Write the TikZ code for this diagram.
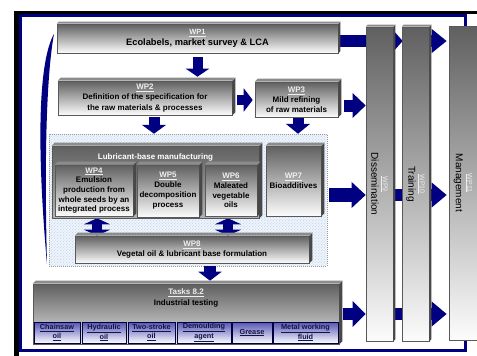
\documentclass[tikz,border=0pt]{standalone}
\usepackage{fontspec}
\setmainfont{Liberation Sans}
\usetikzlibrary{arrows.meta,patterns}
\definecolor{navy}{RGB}{0,0,128}
\definecolor{gtop}{RGB}{96,96,96}
\definecolor{gbot}{RGB}{252,252,252}
\definecolor{sidec}{RGB}{72,72,72}
\definecolor{topc}{RGB}{140,140,140}
\definecolor{hatchbg}{RGB}{240,245,252}
\definecolor{hatchln}{RGB}{188,208,234}
\definecolor{subtop}{RGB}{85,85,180}
\definecolor{subbot}{RGB}{250,250,255}
\definecolor{wplab}{RGB}{238,238,238}
\definecolor{subtxt}{RGB}{20,20,70}
\newcommand\myfs[2]{\fontsize{#1}{#2}\selectfont}
\newcommand\extr[2]{%
 \fill[sidec] (#1.north east) -- ++(#2,-#2) -- ([shift={(#2,-#2)}]#1.south east) -- (#1.south east) -- cycle;
 \fill[topc] (#1.north west) -- ++(#2,-#2) -- ([shift={(#2,-#2)}]#1.north east) -- (#1.north east) -- cycle;}
\newcommand\wpl[1]{\textcolor{wplab}{\underline{#1}}}
\pgfdeclarelayer{bg}\pgfdeclarelayer{arr}\pgfsetlayers{bg,arr,main}
\tikzset{
 gbox/.style={draw=black!65, line width=0.6pt, top color=gtop, bottom color=gbot, inner sep=0pt, align=center, font={\bfseries\myfs{8}{10}}},
 vbar/.style={draw=black!65, line width=0.6pt, top color=gtop, bottom color=gbot, inner sep=0pt},
 hatchbox/.style={draw=gray!80, dash pattern=on 1pt off 1pt, line width=0.5pt, preaction={fill=hatchbg}, pattern=north east lines, pattern color=hatchln},
 subbox/.style={draw=navy!50!black, line width=0.6pt, top color=subtop, bottom color=subbot, inner sep=0pt, align=center, text=subtxt, font={\bfseries\myfs{7.3}{8.3}}},
 vlab/.style={rotate=-90, align=center, font={\myfs{10}{11.5}}},
 blk/.style n args={3}{draw=navy, line width=#1, -{Triangle[width=#2,length=#3]}},
 dblk/.style n args={3}{draw=navy, line width=#1, {Triangle[width=#2,length=#3]}-{Triangle[width=#2,length=#3]}},
}
\begin{document}
\begin{tikzpicture}[x=1pt,y=-1pt]
\useasboundingbox (0,0) rectangle (477,356);
\begin{pgfonlayer}{bg}
 \fill[white] (0,0) rectangle (477,356);
 \fill[black] (14,11) rectangle (477,14);
 \fill[black] (14,11) rectangle (19,356);
 \draw[navy, line width=2.5pt] (20.5,15.5) rectangle (465.5,350.5);
 \fill[navy] (54,34) .. controls (39,60) and (36,140) .. (47,264) .. controls (44,150) and (47,72) .. (54,34) -- cycle;
 \node[hatchbox, minimum width=278, minimum height=132] (hatch) at (188,200) {};
\end{pgfonlayer}

% boxes
\node[gbox, minimum width=281, minimum height=29, font={\bfseries\myfs{9.3}{11}}] (wp1) at (197.5,38.5) {{\myfs{7.5}{11}\wpl{WP1}}\\Ecolabels, market survey \& LCA};
\extr{wp1}{2}
\node[gbox, minimum width=174, minimum height=34, font={\bfseries\myfs{8}{10.5}}] (wp2) at (145,98) {\wpl{WP2}\\Definition of the specification for\\the raw materials \& processes};
\extr{wp2}{3}
\node[gbox, minimum width=83, minimum height=35] (wp3) at (296.5,99.5) {\wpl{WP3}\\Mild refining\\of raw materials};
\extr{wp3}{3}
\node[gbox, minimum width=207, minimum height=72, bottom color=gray!60] (lub) at (155.5,182) {};
\extr{lub}{3}
\node[font={\bfseries\myfs{8}{10}}, text=white] (lubt) at ([yshift=-12pt]lub.north) {Lubricant-base manufacturing};
\node[gbox, minimum width=78, minimum height=51, font={\bfseries\myfs{8}{9.6}}] (wp4) at (94,190.5) {\wpl{WP4}\\Emulsion\\production from\\whole seeds by an\\integrated process};
\extr{wp4}{3}
\node[gbox, minimum width=62, minimum height=52] (wp5) at (168,191) {\wpl{WP5}\\Double\\decomposition\\process};
\extr{wp5}{3}
\node[gbox, minimum width=52, minimum height=51, font={\bfseries\myfs{8}{9.7}}] (wp6) at (231,190.5) {\wpl{WP6}\\Maleated\\vegetable\\oils};
\extr{wp6}{3}
\node[gbox, minimum width=55, minimum height=70] (wp7) at (293.5,181) {\wpl{WP7}\\Bioadditives};
\extr{wp7}{3}
\node[gbox, minimum width=234, minimum height=27] (wp8) at (192,249.5) {\wpl{WP8}\\Vegetal oil \& lubricant base formulation};
\extr{wp8}{3}
\node[gbox, minimum width=306, minimum height=60, top color=gray!75!black, bottom color=gray!20] (tasks) at (186,314) {};
\extr{tasks}{3}
\node[font={\bfseries\myfs{8}{11}}, align=center] (taskt) at ([yshift=-14.5pt]tasks.north) {\wpl{Tasks 8.2}\\Industrial testing};
\node[subbox, minimum width=46, minimum height=21] (chain) at (57,332.5) {\underline{Chainsaw}\\\underline{oil}};
\node[subbox, minimum width=44, minimum height=21] (hyd) at (104,332.5) {\underline{Hydraulic}\\\underline{oil}};
\node[subbox, minimum width=47, minimum height=21] (two) at (151.5,332.5) {\underline{Two-stroke}\\\underline{oil}};
\node[subbox, minimum width=54, minimum height=21] (dem) at (204,332.5) {\underline{Demoulding}\\\underline{agent}};
\node[subbox, minimum width=40, minimum height=21] (gre) at (252,332.5) {\underline{Grease}};
\node[subbox, minimum width=65, minimum height=21] (met) at (305.5,332.5) {\underline{Metal working}\\\underline{fluid}};

% vertical bars
\node[vbar, minimum width=27, minimum height=314] (wp9) at (379.5,184) {};
\extr{wp9}{2}
\node[vbar, minimum width=27, minimum height=314] (wp10) at (415.5,184) {};
\extr{wp10}{2}
\node[vbar, minimum width=28, minimum height=314] (wp11) at (463,183) {};
\node[vlab] (wp9t) at (wp9.center) {{\myfs{7}{11.5}\wpl{WP9}}\\Dissemination};
\node[vlab] (wp10t) at (wp10.center) {{\myfs{7}{11.5}\wpl{WP10}}\\Training};
\node[vlab] (wp11t) at (wp11.center) {{\myfs{7}{11.5}\wpl{WP11}}\\Management};

% connector coordinates
\coordinate (r1) at ([yshift=-2.5pt]wp1.east);
\coordinate (r2) at ([yshift=-2pt]wp2.east);
\coordinate (r3) at ([yshift=-6pt]wp3.east);
\coordinate (r4) at ([yshift=5pt]hatch.east);
\coordinate (r5) at (tasks.east);
\coordinate (d1) at ([xshift=9pt]wp2.south);
\coordinate (d2) at ([xshift=1.5pt]wp3.south);
\coordinate (e1) at ([xshift=-58.5pt]lub.south);
\coordinate (e2) at ([xshift=72.5pt]lub.south);
\coordinate (f1) at ([xshift=18pt]wp8.south);

\begin{pgfonlayer}{arr}
 \draw[blk={10pt}{23pt}{8pt}, shorten <=4pt, shorten >=4pt] (wp1.south) -- (wp1.south |- wp2.north);
 \draw[blk={10pt}{23pt}{9pt}, shorten <=5pt, shorten >=2pt] (r2) -- (r2 -| wp3.west);
 \draw[blk={12pt}{24pt}{13pt}, shorten <=6pt] (r3) -- (r3 -| wp9.west);
 \draw[blk={12pt}{22pt}{10pt}, shorten >=-1pt] (r1) -- (r1 -| wp10.west);
 \draw[blk={12pt}{23pt}{15pt}, shorten >=2pt] (r1 -| wp10.center) -- (r1 -| wp11.west);
 \draw[blk={14pt}{25pt}{14pt}, shorten <=2pt] (r4) -- (r4 -| wp9.west);
 \draw[navy, line width=12pt] (r4 -| wp9.center) -- (r4 -| wp10.center);
 \draw[blk={12pt}{24pt}{15pt}, shorten >=2pt] (r4 -| wp10.center) -- (r4 -| wp11.west);
 \draw[blk={12pt}{25pt}{13pt}, shorten <=4pt] (r5) -- (r5 -| wp9.west);
 \draw[navy, line width=12pt] (r5 -| wp9.center) -- (r5 -| wp10.center);
 \draw[blk={12pt}{24pt}{15pt}, shorten >=2pt] (r5 -| wp10.center) -- (r5 -| wp11.west);
 \draw[blk={11pt}{24pt}{9pt}, shorten <=2pt] (d1) -- (d1 |- hatch.north);
 \draw[blk={11pt}{24pt}{10pt}, shorten <=1pt] (d2) -- (d2 |- hatch.north);
 \draw[dblk={10pt}{26pt}{6pt}] (e1) -- (e1 |- wp8.north);
 \draw[dblk={10pt}{26pt}{6pt}] (e2) -- (e2 |- wp8.north);
 \draw[blk={12pt}{23pt}{9pt}, shorten <=3pt, shorten >=3pt] (f1) -- (f1 |- tasks.north);
\end{pgfonlayer}
\end{tikzpicture}
\end{document}
